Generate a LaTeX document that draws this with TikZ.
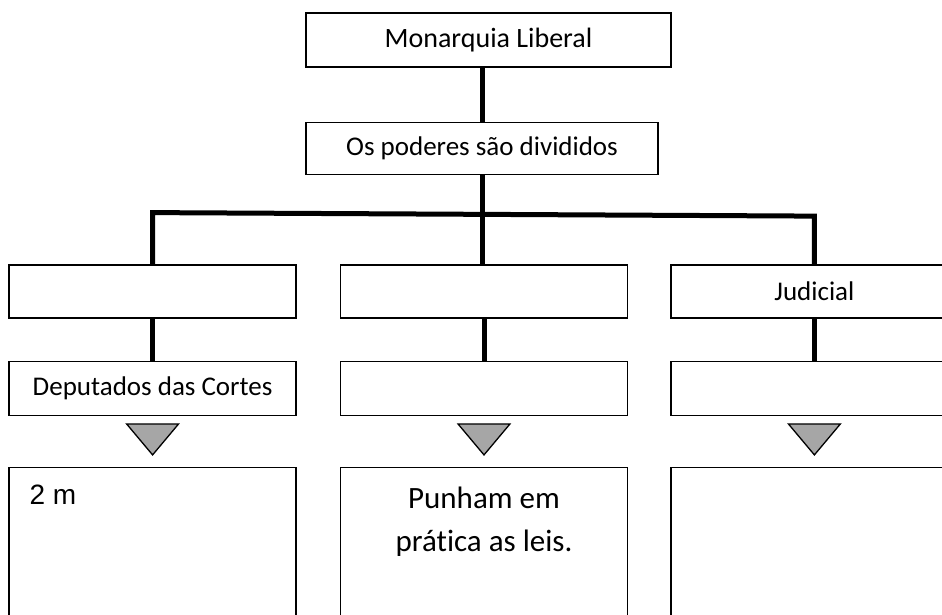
\documentclass[tikz,border=0pt]{standalone}
\usepackage{fontspec}
\setmainfont{Carlito}[Ligatures=NoCommon]
\newfontfamily\arialfont{Liberation Sans}
\usepackage{tikz}
\usetikzlibrary{positioning}

\definecolor{markgray}{HTML}{A6A6A6}

\begin{document}
\begin{tikzpicture}[
			x=1pt, y=-1pt,
			box/.style={rectangle, draw, line width=1.4pt, minimum width=287pt, minimum height=53pt, inner sep=0pt, text centered, font=\fontsize{27}{32}\selectfont},
			link/.style={line width=5pt, line join=miter},
			marker/.style={draw, line width=1.3pt, fill=markgray, line join=miter}
			]
			\useasboundingbox (0,0) rectangle (942,614);
			\clip (0,0) rectangle (942,614);
			
			% Nodes
			\node[box, minimum width=365pt, minimum height=54pt, font=\fontsize{28}{32}\selectfont] (monarquia) at (488.5,40) {Monarquia Liberal};
			\node[box, minimum width=352pt, minimum height=52pt, below=54pt of monarquia, xshift=-6.5pt] (poderes) {Os poderes são divididos};
			
			\node[box, below=89pt of poderes, xshift=2pt] (exe) {};
			\node[box, left=43pt of exe] (leg) {};
			\node[box, right=42pt of exe] (jud) {Judicial};
			
			\node[box, minimum height=54pt, below=42pt of leg] (leg_who) {Deputados das Cortes};
			\node[box, minimum height=54pt, below=42pt of exe] (exe_who) {};
			\node[box, minimum height=54pt, below=42pt of jud] (jud_who) {};
			
			\node[box, minimum height=200pt, below=51pt of leg_who] (leg_role) {};
			\node[box, minimum height=200pt, below=51pt of exe_who] (exe_role) {};
			\node[box, minimum height=200pt, below=51pt of jud_who] (jud_role) {};
			
			\node[inner sep=0pt, font=\arialfont\fontsize{28}{34}\selectfont, below right=18pt and 21pt of leg_role.north west] (leg_note) {2 m};
			\node[inner sep=0pt, align=center, font=\fontsize{31}{43}\selectfont, below=20pt of exe_role.north] (exe_note) {Punham em\\prática as leis.};
			
			\coordinate (bus_left) at ([yshift=51.5pt]leg.north);
			\coordinate (bus_right) at ([yshift=48pt]jud.north);
			
			% Links
			\draw[link] (monarquia.south -| poderes.north) -- (poderes.north);
			\draw[link] (poderes.south) -- (poderes.south |- exe.north);
			\draw[link] (leg.north) -- (bus_left) -- (bus_right) -- (jud.north);
			
			\draw[link] (leg) -- (leg_who);
			\draw[link] (exe) -- (exe_who);
			\draw[link] (jud) -- (jud_who);
			
			% Markers
			\foreach \n in {leg_who, exe_who, jud_who}
				\draw[marker] ([xshift=-26pt, yshift=-8pt]\n.south) -- ++(52,0) -- ++(-26,31) -- cycle;
			
		\end{tikzpicture}
\end{document}
